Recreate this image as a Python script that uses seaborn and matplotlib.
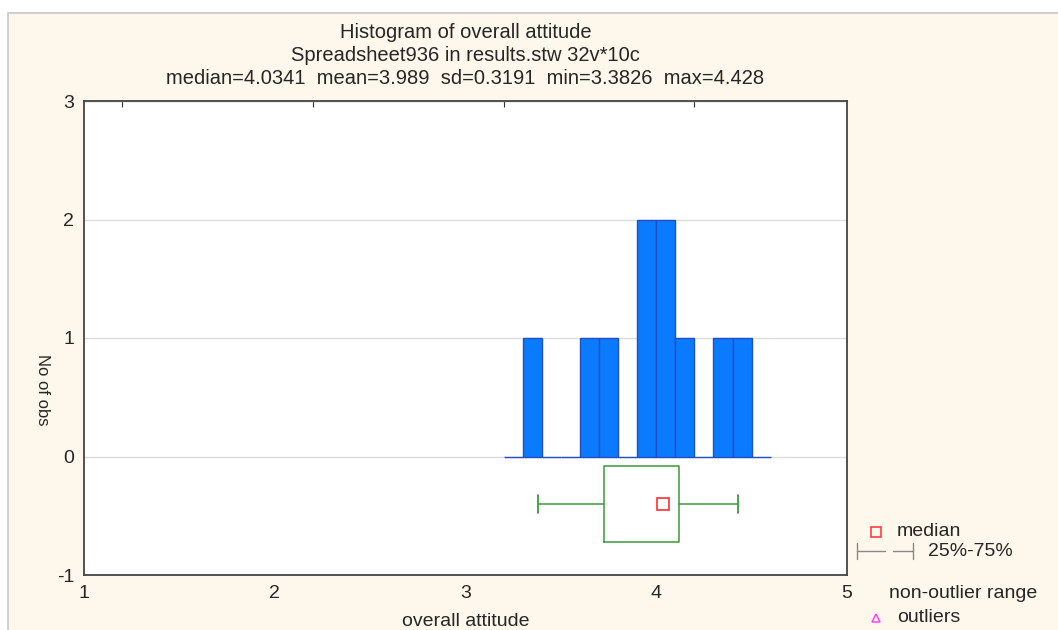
import matplotlib
matplotlib.use("Agg")
import matplotlib.pyplot as plt
import seaborn as sns
import numpy as np
from matplotlib.lines import Line2D
from matplotlib.patches import Rectangle

# histogram bins (width 0.1) and counts
bin_edges = [3.2, 3.3, 3.4, 3.5, 3.6, 3.7, 3.8, 3.9, 4.0, 4.1, 4.2, 4.3, 4.4, 4.5, 4.6]
counts = [0, 1, 0, 0, 1, 1, 0, 2, 2, 1, 0, 1, 1, 0]

# box-whisker summary
box_median = 4.0341
box_q1 = 3.724
box_q3 = 4.121
box_min = 3.3826
box_max = 4.428
box_pos = -0.40

x_ticks = [1, 2, 3, 4, 5]
y_ticks = [-1, 0, 1, 2, 3]
top_ticks = [1.2, 2.2, 3.2, 4.2]

title_lines = [
    "Histogram of overall attitude",
    "Spreadsheet936 in results.stw 32v*10c",
    "median=4.0341  mean=3.989  sd=0.3191  min=3.3826  max=4.428",
]

sns.set_style("white")
plt.rcParams["font.family"] = ["Liberation Sans", "DejaVu Sans"]

cream = "#fdf8eb"
fig = plt.figure(figsize=(10.58, 6.30), dpi=100, facecolor="white")
fig.add_artist(Rectangle((8 / 1058, -0.01), 1.0, (630 - 13) / 630 + 0.01,
                         transform=fig.transFigure, facecolor=cream,
                         edgecolor="#c8c8c8", linewidth=1.2, zorder=-10))

ax = fig.add_axes([84 / 1058, 55 / 630, 763 / 1058, 474 / 630])
ax.set_facecolor("white")

centers = [(a + b) / 2 for a, b in zip(bin_edges[:-1], bin_edges[1:])]
sns.histplot(x=centers, weights=counts, bins=bin_edges, ax=ax,
             color="#0a7bff", edgecolor="#1f4fc0", linewidth=1.0, alpha=1.0,
             zorder=3)

stats = [dict(med=box_median, q1=box_q1, q3=box_q3,
              whislo=box_min, whishi=box_max, fliers=[])]
green = "#3c9a3c"
ax.bxp(stats, positions=[box_pos], widths=[0.645], orientation="horizontal",
       showfliers=False, capwidths=[0.15],
       boxprops=dict(color=green, linewidth=1.1),
       whiskerprops=dict(color=green, linewidth=1.1),
       capprops=dict(color=green, linewidth=1.3),
       medianprops=dict(linewidth=0))
ax.plot([box_median], [box_pos], marker="s", markersize=8, mfc="none",
        mec="#ff3030", mew=1.2, linestyle="none", zorder=5)

ax.set_xlim(1, 5)
ax.set_ylim(-1, 3)
ax.set_xticks(x_ticks)
ax.set_yticks(y_ticks)
ax.set_xticklabels([str(t) for t in x_ticks], fontsize=14)
ax.set_yticklabels([str(t) for t in y_ticks], fontsize=14)
ax.tick_params(direction="in", length=4, width=1, color="#333333", pad=7)
ax.grid(axis="y", color="#dcdcdc", linewidth=1, zorder=0)
ax.set_axisbelow(True)
for s in ax.spines.values():
    s.set_color("#444444")
    s.set_linewidth(1.3)
    s.set_visible(True)

top = ax.secondary_xaxis("top")
top.set_xticks(top_ticks)
top.set_xticklabels([])
top.tick_params(direction="in", length=4, color="#333333")

ax.set_xlabel("overall attitude", fontsize=14)
ax.xaxis.set_label_coords(0.5, -(621 - 575) / 474)
ax.xaxis.label.set_va("center")
ax.set_ylabel("No of obs", fontsize=12, rotation=270, labelpad=0)
ax.yaxis.set_label_coords(-0.055, 0.39)
ax.yaxis.label.set_va("center")

for i, line in enumerate(title_lines):
    fig.text(465.5 / 1058, 1 - (33 + i * 22.5) / 630, line, ha="center",
             va="center", fontsize=14.5)

# legend at bottom right
fig.add_artist(Line2D([876 / 1058], [1 - 532 / 630], marker="s", markersize=7,
                      mfc="none", mec="#ff3030", mew=1.1, linestyle="none"))
fig.text(897 / 1058, 1 - 532 / 630, "median", fontsize=14, va="center")
gy = 1 - 551 / 630
gray = "#888888"
for x0, x1 in [(857, 885), (893, 913)]:
    fig.add_artist(Line2D([x0 / 1058, x1 / 1058], [gy, gy], color=gray, lw=1))
for xc in (857, 913):
    fig.add_artist(Line2D([xc / 1058, xc / 1058], [gy - 0.013, gy + 0.013],
                          color=gray, lw=1))
fig.text(928 / 1058, gy, "25%-75%", fontsize=14, va="center")
fig.text(889 / 1058, 1 - 594 / 630, "non-outlier range", fontsize=14, va="center")
fig.add_artist(Line2D([876 / 1058], [1 - 618 / 630], marker="^", markersize=6,
                      mfc="none", mec="#ff40ff", mew=1.1, linestyle="none"))
fig.text(897 / 1058, 1 - 618 / 630, "outliers", fontsize=14, va="center")

fig.savefig("out.png", dpi=100, facecolor=fig.get_facecolor())
